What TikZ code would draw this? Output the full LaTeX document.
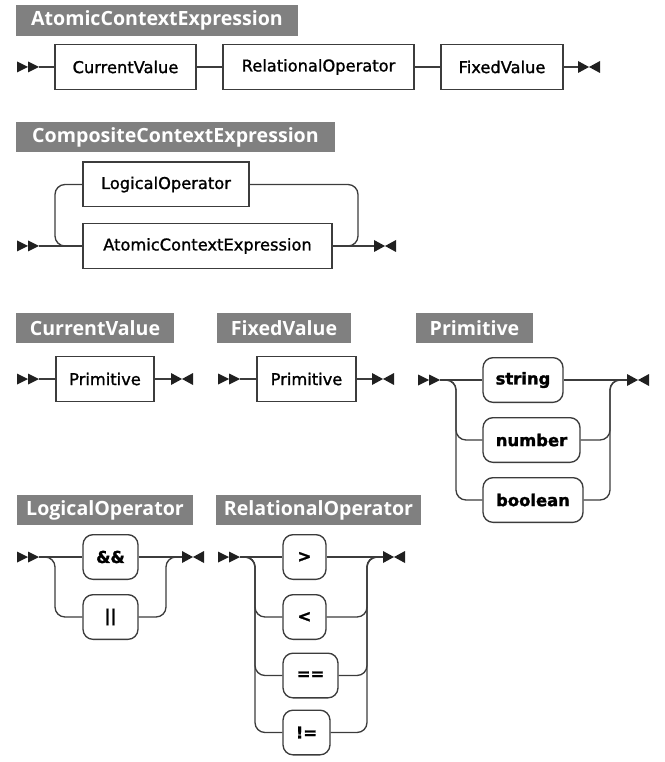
\documentclass[tikz,border=0pt]{standalone}
\usepackage{fontspec}
\newfontfamily\titlefont{Open Sans}
\newfontfamily\ntfont{DejaVu Sans}[FakeBold=1.2]
\newfontfamily\tfont{DejaVu Sans Bold}[FakeBold=1.6]
\definecolor{ttlgray}{HTML}{808080}
\definecolor{linec}{HTML}{3C3C3C}
\definecolor{arrc}{HTML}{202020}
\tikzset{
  ttl/.style={fill=ttlgray, text=white, font=\titlefont\bfseries\fontsize{14.7}{16}\selectfont, minimum height=23pt, inner sep=0pt},
  nt/.style={draw=linec, line width=1pt, fill=white, minimum height=33.5pt, inner sep=0pt, font=\ntfont\fontsize{12.2}{14}\selectfont},
  term/.style={nt, rounded corners=7.5pt, font=\tfont\fontsize{12.3}{14}\selectfont},
  conn/.style={draw=linec, line width=1pt, rounded corners=7.5pt},
  startm/.pic={\fill[arrc] (-22,-5.5) -- (-11,0) -- (-22,5.5) -- cycle (-11,-5.5) -- (0,0) -- (-11,5.5) -- cycle;},
  endm/.pic={\fill[arrc] (0,-6) -- (11,0) -- (0,6) -- cycle (22,-6) -- (11,0) -- (22,6) -- cycle;}
}
\begin{document}
\begin{tikzpicture}[x=0.75pt, y=-0.75pt]
\useasboundingbox (0,0) rectangle (664,762);
% titles
\node[ttl, minimum width=211.5pt] (t1) at (157,20.5) {AtomicContextExpression};
\node[ttl, minimum width=239.25pt] (t2) at (175.5,137) {CompositeContextExpression};
\node[ttl, minimum width=118.5pt] (t3) at (95,328) {CurrentValue};
\node[ttl, minimum width=100.5pt] (t4) at (284,328) {FixedValue};
\node[ttl, minimum width=87.75pt] (t5) at (474.5,328) {Primitive};
\node[ttl, minimum width=132pt] (t6) at (105,510) {LogicalOperator};
\node[ttl, minimum width=153.75pt] (t7) at (318.5,510) {RelationalOperator};

% AtomicContextExpression
\coordinate (s1) at (39,67); \pic at (s1) {startm};
\coordinate (e1) at (578,67); \pic at (e1) {endm};
\node[nt, minimum width=105.75pt] (cv) at (125.5,67) {CurrentValue};
\node[nt, minimum width=143.25pt] (ro) at (318.5,67) {RelationalOperator};
\node[nt, minimum width=91.5pt] (fv) at (502,67) {FixedValue};
\draw[conn] (s1) -- (cv.west);
\draw[conn] (cv.east) -- (ro.west);
\draw[conn] (ro.east) -- (fv.west);
\draw[conn] (fv.east) -- (e1);

% CompositeContextExpression
\coordinate (s2) at (39,246); \pic at (s2) {startm};
\coordinate (e2) at (374,246); \pic at (e2) {endm};
\node[nt, minimum width=124.5pt] (lo) at (166,184.5) {LogicalOperator};
\node[nt, minimum width=186.75pt] (ae) at (207.5,246) {AtomicContextExpression};
\draw[conn] (s2) -- (ae.west);
\draw[conn] (ae.east) -- (e2);
\draw[conn] (lo.west) -| (55,246) -- (ae.west);
\draw[conn] (lo.east) -| (358,246) -- (ae.east);

% CurrentValue
\coordinate (s3) at (39,379); \pic at (s3) {startm};
\coordinate (e3) at (171,379); \pic at (e3) {endm};
\node[nt, minimum width=73.5pt] (p1) at (105,379) {Primitive};
\draw[conn] (s3) -- (p1.west);
\draw[conn] (p1.east) -- (e3);

% FixedValue
\coordinate (s4) at (240,379); \pic at (s4) {startm};
\coordinate (e4) at (372,379); \pic at (e4) {endm};
\node[nt, minimum width=74.25pt] (p2) at (306.5,379) {Primitive};
\draw[conn] (s4) -- (p2.west);
\draw[conn] (p2.east) -- (e4);

% Primitive
\coordinate (s5) at (440,380); \pic at (s5) {startm};
\coordinate (e5) at (627,380); \pic at (e5) {endm};
\node[term, minimum width=60pt] (str) at (523,380) {string};
\node[term, minimum width=72.75pt] (num) at (531.5,440) {number};
\node[term, minimum width=75pt] (bool) at (533,500) {boolean};
\draw[conn] (s5) -- (str.west);
\draw[conn] (str.east) -- (e5);
\draw[conn] (s5) -| (456,440) -- (num.west);
\draw[conn] (s5) -| (456,500) -- (bool.west);
\draw[conn] (num.east) -| (610,380) -- (e5);
\draw[conn] (bool.east) -| (610,380) -- (e5);

% LogicalOperator
\coordinate (s6) at (39,557); \pic at (s6) {startm};
\coordinate (e6) at (182,557); \pic at (e6) {endm};
\node[term, minimum width=41.25pt] (and) at (110.5,557) {\&\&};
\node[term, minimum width=41.25pt] (or) at (110.5,617) {||};
\draw[conn] (s6) -- (and.west);
\draw[conn] (and.east) -- (e6);
\draw[conn] (s6) -| (55,617) -- (or.west);
\draw[conn] (or.east) -| (166,557) -- (e6);

% RelationalOperator
\coordinate (s7) at (240,557); \pic at (s7) {startm};
\coordinate (e7) at (383,557); \pic at (e7) {endm};
\node[term, minimum width=32.25pt] (gt) at (304.5,557) {>};
\node[term, minimum width=32.25pt] (lt) at (304.5,617) {<};
\node[term, minimum width=41.25pt] (eq) at (310.5,675.5) {==};
\node[term, minimum width=35.25pt] (ne) at (306.5,732.5) {!=};
\draw[conn] (s7) -- (gt.west);
\draw[conn] (gt.east) -- (e7);
\draw[conn] (s7) -| (255,617) -- (lt.west);
\draw[conn] (s7) -| (255,675.5) -- (eq.west);
\draw[conn] (s7) -| (255,732.5) -- (ne.west);
\draw[conn] (lt.east) -| (367,557) -- (e7);
\draw[conn] (eq.east) -| (367,557) -- (e7);
\draw[conn] (ne.east) -| (367,557) -- (e7);
\end{tikzpicture}
\end{document}
